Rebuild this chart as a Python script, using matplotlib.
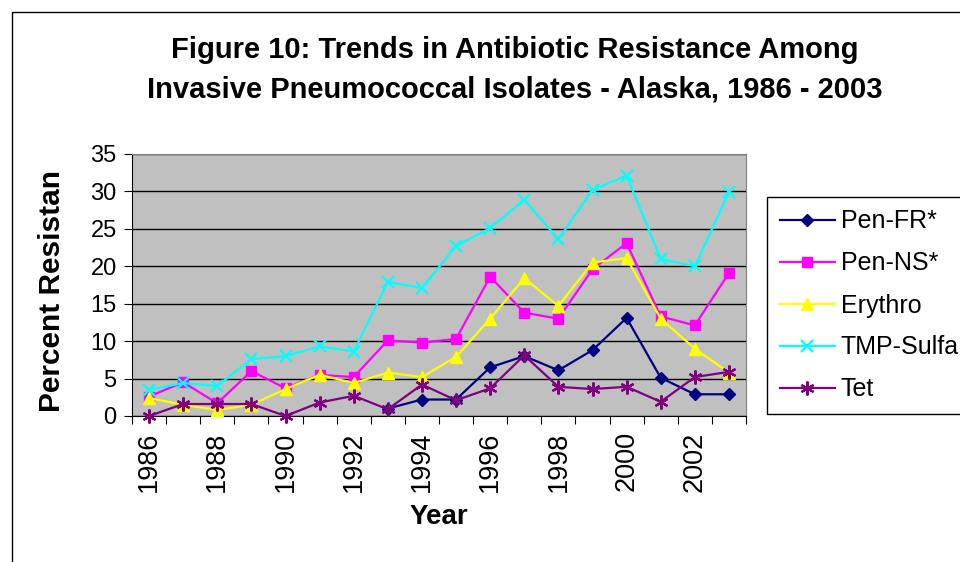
import numpy as np
import matplotlib
matplotlib.use('Agg')
import matplotlib.pyplot as plt
from matplotlib.patches import Rectangle
from matplotlib.transforms import Bbox

plt.rcParams['font.family'] = ['Liberation Sans', 'DejaVu Sans']

# Data
years = list(range(1986, 2004))
pen_fr = [np.nan] * 7 + [1.0, 2.2, 2.2, 6.5, 8.0, 6.1, 8.8, 13.1, 5.1, 2.9, 2.9]
pen_ns = [2.6, 4.5, 1.7, 6.0, 3.7, 5.5, 5.2, 10.1, 9.8, 10.3, 18.6, 13.8, 13.0, 19.6, 23.1, 13.3, 12.1, 19.1]
erythro = [2.4, 1.5, 0.8, 1.5, 3.6, 5.5, 4.4, 5.8, 5.2, 7.9, 13.0, 18.4, 14.7, 20.5, 21.1, 13.0, 9.0, 5.8]
tmp_sulfa = [3.5, 4.4, 4.0, 7.6, 8.0, 9.3, 8.6, 17.9, 17.1, 22.7, 25.1, 28.9, 23.6, 30.2, 32.1, 21.0, 20.0, 29.9]
tet = [0.0, 1.6, 1.6, 1.6, 0.0, 1.8, 2.7, 0.9, 4.2, 2.1, 3.7, 8.1, 3.9, 3.6, 3.9, 1.9, 5.2, 5.9]

series = [
    ('Pen-FR*', pen_fr, '#000080', 'D', 6.5),
    ('Pen-NS*', pen_ns, '#FF00FF', 's', 7.5),
    ('Erythro', erythro, '#FFFF00', '^', 9),
    ('TMP-Sulfa', tmp_sulfa, '#00FFFF', 'x', 9),
    ('Tet', tet, '#800080', (6, 2, 0), 10),
]

W, H = 960, 562
fig = plt.figure(figsize=(W / 100, H / 100), dpi=100)
fig.patch.set_facecolor('white')

# outer chart border
fig.patches.append(Rectangle((12 / W, -0.1), 2, 1 - 12 / H + 0.1, transform=fig.transFigure,
                             fill=False, edgecolor='black', linewidth=1))

ax = fig.add_axes([132 / W, (H - 416) / H, 614 / W, 262 / H])
ax.set_facecolor('#C0C0C0')

x = np.arange(len(years))
for name, vals, color, marker, ms in series:
    ax.plot(x, vals, color=color, marker=marker, markersize=ms, linewidth=1.6,
            markeredgewidth=1.6 if marker in ('x', (6, 2, 0)) else 1,
            markerfacecolor=color, markeredgecolor=color, label=name, clip_on=False, zorder=3)

ax.set_xlim(-0.5, len(years) - 0.5)
ax.set_ylim(0, 35)
ax.set_yticks(range(0, 36, 5))
ax.yaxis.grid(True, color='black', linewidth=1)
ax.set_axisbelow(True)
ax.tick_params(axis='y', labelsize=17, length=6, direction='out', pad=5)

ax.set_xticks(np.arange(-0.5, len(years), 1))
ax.set_xticklabels([])
ax.set_xticks(x[::2], minor=True)
ax.set_xticklabels([str(y) for y in years[::2]], minor=True, rotation=90, fontsize=19.5)
ax.tick_params(axis='x', which='major', length=6, direction='out')
ax.tick_params(axis='x', which='minor', length=0, pad=11)

for s in ('top', 'right'):
    ax.spines[s].set_color('#808080')
ax.spines['left'].set_color('black')
ax.spines['bottom'].set_color('black')

ax.set_xlabel('Year', fontsize=20, fontweight='bold', labelpad=9)

# y label is cut off at the top in the original chart
ylab = fig.text(52 / W, (H - 412) / H, 'Percent Resistant', rotation=90, fontsize=21.5,
                fontweight='bold', ha='center', va='bottom')
ylab.set_clip_box(Bbox.from_extents(0, 0, W, H - 172))
ylab.set_clip_on(True)

fig.text(515 / W, 1 - 50 / H, 'Figure 10: Trends in Antibiotic Resistance Among',
         fontsize=21, fontweight='bold', ha='center', va='center')
fig.text(515 / W, 1 - 90 / H, 'Invasive Pneumococcal Isolates - Alaska, 1986 - 2003',
         fontsize=21, fontweight='bold', ha='center', va='center')

leg = fig.legend(loc='upper left', bbox_to_anchor=(767 / W, 1 - 197 / H), fontsize=18,
                 frameon=True, fancybox=False, edgecolor='black', framealpha=1,
                 handlelength=2.2, labelspacing=0.72, borderpad=0.5, handletextpad=0.25,
                 borderaxespad=0)
leg.get_frame().set_linewidth(1)

fig.savefig('out.png', dpi=100)
